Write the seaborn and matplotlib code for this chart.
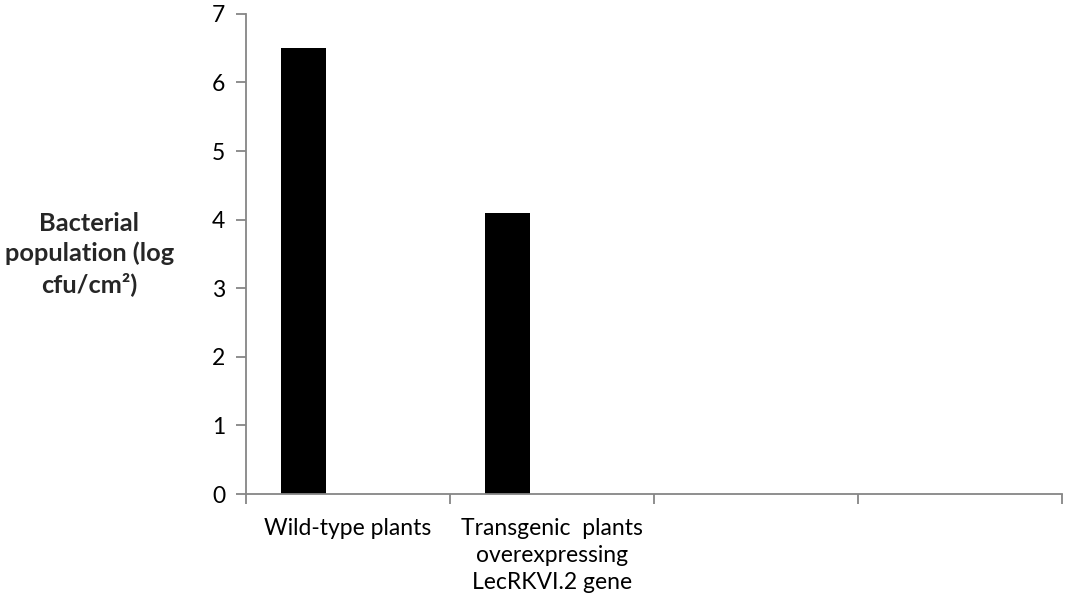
import numpy as np
import pandas as pd
import matplotlib.pyplot as plt
import seaborn as sns
from matplotlib.ticker import FixedLocator

categories = ["Wild-type plants",
              "Transgenic  plants\noverexpressing\nLecRKVI.2 gene",
              "", " "]
series_names = ["Series1", "Series2", "Series3"]
series1 = [6.5, 4.1, np.nan, np.nan]
series2 = [np.nan, np.nan, np.nan, np.nan]
series3 = [np.nan, np.nan, np.nan, np.nan]
y_ticks = [0, 1, 2, 3, 4, 5, 6, 7]

df = pd.DataFrame({
    "category": categories * 3,
    "series": [series_names[0]] * 4 + [series_names[1]] * 4 + [series_names[2]] * 4,
    "value": series1 + series2 + series3,
})

sns.set_theme(style="white")
plt.rcParams['font.family'] = ['Lato', 'DejaVu Sans']

fig = plt.figure(figsize=(10.67, 6.04), dpi=100)
ax = fig.add_axes([0.2306, 0.182, 0.7647, 0.795])

sns.barplot(data=df, x="category", y="value", hue="series",
            order=categories, hue_order=series_names,
            palette=["black", "black", "black"], width=0.66,
            linewidth=0, legend=False, ax=ax)

ax.set_xlim(-0.5, 3.5)
ax.set_ylim(0, 7)
ax.set_yticks(y_ticks)
ax.set_yticklabels([str(t) for t in y_ticks], fontsize=16.5)
ax.set_xticks(range(len(categories)))
ax.set_xticklabels(categories, fontsize=16.5, linespacing=1.35)
ax.xaxis.set_minor_locator(FixedLocator(np.arange(-0.5, 4, 1.0)))

gray = "#868686"
for s in ["top", "right"]:
    ax.spines[s].set_visible(False)
for s in ["left", "bottom"]:
    ax.spines[s].set_color(gray)
    ax.spines[s].set_linewidth(1.3)

ax.tick_params(axis="y", which="major", length=7, width=1.3, color=gray,
               direction="out", left=True, pad=8, labelcolor="black")
ax.tick_params(axis="x", which="major", length=0, pad=17, labelcolor="black")
ax.tick_params(axis="x", which="minor", length=7, width=1.3, color=gray,
               direction="out", bottom=True)

ax.set_xlabel("")
ax.set_ylabel("Bacterial\npopulation (log\ncfu/cm²)", fontsize=18.3,
              fontweight="bold", rotation=0, ha="center", va="center",
              linespacing=1.35)
ax.yaxis.set_label_coords(-0.192, 0.50)

fig.savefig("out.png", dpi=100)
